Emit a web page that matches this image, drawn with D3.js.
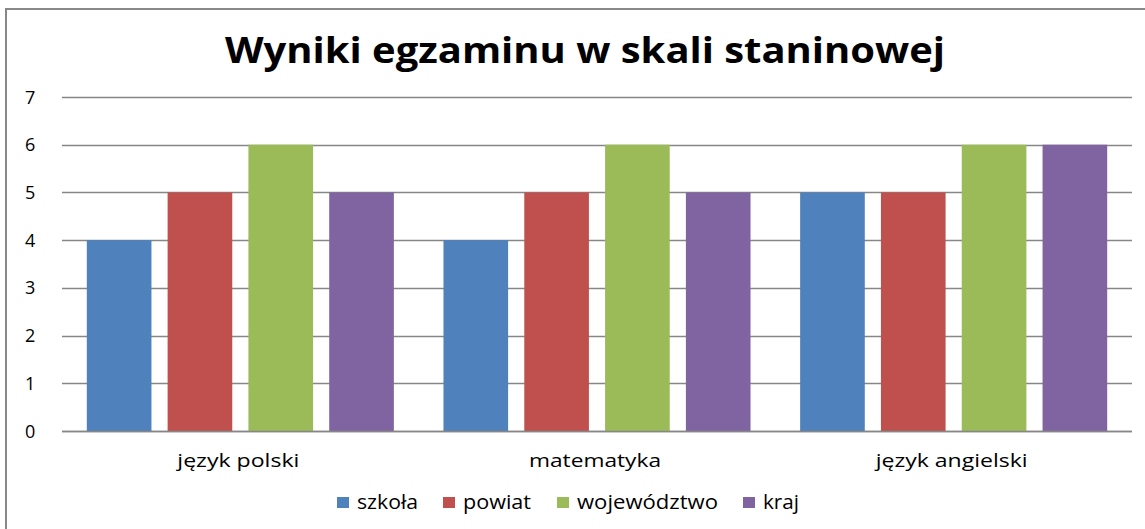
<!DOCTYPE html>
<html><head><meta charset="utf-8">
<script src="https://cdn.jsdelivr.net/npm/d3@7"></script>
<style>html,body{margin:0;padding:0;background:#fff;}svg{display:block;}</style>
</head><body>
<svg id="chart" width="1145" height="529"></svg>
<script>
const categories = ["język polski", "matematyka", "język angielski"];
const seriesNames = ["szkoła", "powiat", "województwo", "kraj"];
const szkola = [4, 4, 5];
const powiat = [5, 5, 5];
const wojewodztwo = [6, 6, 6];
const kraj = [5, 5, 6];
const yTicks = [0, 1, 2, 3, 4, 5, 6, 7];
const colors = ["#4F81BD", "#C0504D", "#9BBB59", "#8064A2"];
const titleText = "Wyniki egzaminu w skali staninowej";

(function () {
const seriesValues = [szkola, powiat, wojewodztwo, kraj];
const svg = d3.select("#chart");
const font = "'Open Sans', 'DejaVu Sans', sans-serif";

// frame
svg.append("rect").attr("x", 6).attr("y", 9).attr("width", 1160).attr("height", 540)
  .attr("fill", "none").attr("stroke", "#888").attr("stroke-width", 2);

const pLeft = 62, pRight = 1132, pTop = 97, pBottom = 431;
const x0 = d3.scaleBand().domain(categories).range([pLeft, pRight]).paddingInner(0).paddingOuter(0);
const x1 = d3.scaleBand().domain(seriesNames).range([24, x0.bandwidth() - 24]).paddingInner(0.2).paddingOuter(0.01);
const y = d3.scaleLinear().domain([0, 7]).range([pBottom, pTop]);

// grid
svg.append("g").selectAll("line").data(yTicks).join("line")
  .attr("x1", pLeft).attr("x2", pRight)
  .attr("y1", d => Math.round(y(d)) + 0.5).attr("y2", d => Math.round(y(d)) + 0.5)
  .attr("stroke", "#878787").attr("stroke-width", 1.3);

// y labels
svg.append("g").selectAll("text").data(yTicks).join("text")
  .attr("x", 25).attr("y", d => y(d) + 6.5)
  .attr("font-family", font).attr("font-size", 18).attr("fill", "#000")
  .text(d => d);

// bars
const groups = svg.append("g").selectAll("g").data(categories).join("g")
  .attr("transform", c => `translate(${x0(c)},0)`);
groups.selectAll("rect").data((c, i) => seriesNames.map((s, j) => ({s, j, v: seriesValues[j][i]})))
  .join("rect")
  .attr("x", d => x1(d.s)).attr("width", x1.bandwidth())
  .attr("y", d => y(d.v)).attr("height", d => y(0) - y(d.v))
  .attr("fill", d => colors[d.j]);

// baseline
svg.append("line").attr("x1", pLeft).attr("x2", pRight).attr("y1", Math.round(y(0)) + 0.5).attr("y2", Math.round(y(0)) + 0.5)
  .attr("stroke", "#878787").attr("stroke-width", 1.3);

// category labels
const catW = [122, 132, 152];
svg.append("g").selectAll("text").data(categories).join("text")
  .attr("x", c => x0(c) + x0.bandwidth() / 2 - 2).attr("y", 467)
  .attr("text-anchor", "middle")
  .attr("font-family", font).attr("font-size", 19).attr("fill", "#000")
  .attr("textLength", (c, i) => catW[i]).attr("lengthAdjust", "spacingAndGlyphs")
  .text(c => c);

// title
svg.append("text").attr("x", 585).attr("y", 63).attr("text-anchor", "middle")
  .attr("font-family", font).attr("font-weight", "bold").attr("font-size", 35)
  .attr("textLength", 720).attr("lengthAdjust", "spacingAndGlyphs")
  .text(titleText);

// legend
const legendX = [337, 443, 557, 743];
const legendW = [61, 68, 141, 36];
const leg = svg.append("g");
seriesNames.forEach((s, i) => {
  leg.append("rect").attr("x", legendX[i]).attr("y", 497).attr("width", 12).attr("height", 11).attr("fill", colors[i]);
  leg.append("text").attr("x", legendX[i] + 20).attr("y", 509)
    .attr("font-family", font).attr("font-size", 19.5).attr("fill", "#000")
    .attr("textLength", legendW[i]).attr("lengthAdjust", "spacingAndGlyphs")
    .text(s);
});
})();
</script>
</body></html>
